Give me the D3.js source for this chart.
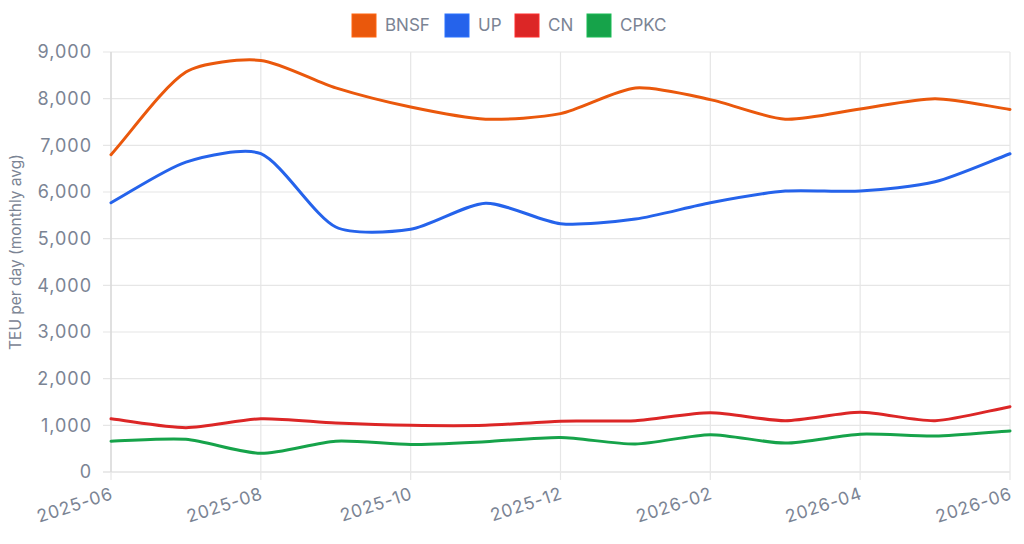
<!DOCTYPE html>
<html>
<head>
<meta charset="utf-8">
<script src="https://cdn.jsdelivr.net/npm/d3@7"></script>
<style>
  html, body { margin: 0; padding: 0; background: #fff; }
  svg { display: block; }
  text { font-family: Inter, "Noto Sans", sans-serif; fill: #7b8494; }
</style>
</head>
<body>
<svg id="chart" width="1024" height="544"></svg>
<script>
const months = ["2025-06","2025-07","2025-08","2025-09","2025-10","2025-11","2025-12",
                "2026-01","2026-02","2026-03","2026-04","2026-05","2026-06"];
const seriesNames = ["BNSF", "UP", "CN", "CPKC"];
const seriesColors = ["#ea580c", "#2563eb", "#dc2626", "#16a34a"];
const bnsf = [6800, 8570, 8820, 8230, 7820, 7560, 7680, 8230, 7980, 7560, 7780, 8000, 7770];
const up   = [5770, 6640, 6820, 5250, 5200, 5760, 5320, 5420, 5770, 6020, 6020, 6220, 6820];
const cn   = [1140,  950, 1140, 1050, 1000, 1000, 1090, 1100, 1270, 1100, 1280, 1100, 1400];
const cpkc = [ 660,  700,  400,  660,  590,  650,  740,  600,  800,  620,  810,  770,  880];
const yTicks = [0, 1000, 2000, 3000, 4000, 5000, 6000, 7000, 8000, 9000];
const xTickLabels = ["2025-06","2025-08","2025-10","2025-12","2026-02","2026-04","2026-06"];
const yTitle = "TEU per day (monthly avg)";

const seriesValues = [bnsf, up, cn, cpkc];

const W = 1024, H = 544;
const m = { left: 111, right: 14, top: 52, bottom: 72 };
const svg = d3.select("#chart");

const x = d3.scalePoint().domain(months).range([m.left, W - m.right]).padding(0);
const y = d3.scaleLinear().domain([0, 9000]).range([H - m.bottom, m.top]);

// horizontal grid
svg.append("g").selectAll("line").data(yTicks).join("line")
  .attr("x1", m.left - 8).attr("x2", W - m.right)
  .attr("y1", d => y(d)).attr("y2", d => y(d))
  .attr("stroke", d => d === 0 ? "#d6d6d6" : "#e6e6e6").attr("stroke-width", 1.2);
// vertical grid
svg.append("g").selectAll("line").data(xTickLabels).join("line")
  .attr("x1", d => x(d)).attr("x2", d => x(d))
  .attr("y1", m.top).attr("y2", H - m.bottom + 8)
  .attr("stroke", "#e6e6e6").attr("stroke-width", 1.2);
// left border
svg.append("line").attr("x1", m.left).attr("x2", m.left)
  .attr("y1", m.top).attr("y2", H - m.bottom).attr("stroke", "#d6d6d6").attr("stroke-width", 1.2);

// y axis labels
const yAxis = d3.axisLeft(y).tickValues(yTicks).tickFormat(d3.format(",")).tickSize(0).tickPadding(19);
const gy = svg.append("g").attr("transform", `translate(${m.left},0)`).call(yAxis);
gy.select(".domain").remove();
gy.selectAll("text").attr("font-size", 18).attr("fill", "#7b8494")
  .style("font-family", "Inter, sans-serif").style("letter-spacing", "1px");

// x axis labels
const xAxis = d3.axisBottom(x).tickValues(xTickLabels).tickSize(0).tickPadding(0);
const gx = svg.append("g").attr("transform", `translate(0,${H - m.bottom})`).call(xAxis);
gx.select(".domain").remove();
gx.selectAll("text")
  .attr("font-size", 17.5).attr("fill", "#7b8494")
  .style("font-family", "Inter, sans-serif").style("letter-spacing", "0.8px")
  .attr("text-anchor", "end")
  .attr("dy", null).attr("y", 0)
  .attr("transform", "translate(1,22) rotate(-18)")
  .attr("dominant-baseline", "middle");

// y title
svg.append("text")
  .attr("transform", `translate(17,252) rotate(-90)`)
  .attr("text-anchor", "middle").attr("dominant-baseline", "middle")
  .attr("font-size", 15.5).attr("fill", "#7b8494")
  .text(yTitle);

// Chart.js-like spline with tension
function splinePath(pts, t) {
  const cps = pts.map((cur, i) => {
    const prev = i > 0 ? pts[i - 1] : cur;
    const next = i < pts.length - 1 ? pts[i + 1] : cur;
    const d01 = Math.hypot(cur[0] - prev[0], cur[1] - prev[1]);
    const d12 = Math.hypot(next[0] - cur[0], next[1] - cur[1]);
    let s01 = d01 / (d01 + d12), s12 = d12 / (d01 + d12);
    if (isNaN(s01)) s01 = 0; if (isNaN(s12)) s12 = 0;
    const fa = t * s01, fb = t * s12;
    return {
      prev: [cur[0] - fa * (next[0] - prev[0]), cur[1] - fa * (next[1] - prev[1])],
      next: [cur[0] + fb * (next[0] - prev[0]), cur[1] + fb * (next[1] - prev[1])]
    };
  });
  const p = d3.path();
  p.moveTo(pts[0][0], pts[0][1]);
  for (let i = 1; i < pts.length; i++) {
    p.bezierCurveTo(cps[i - 1].next[0], cps[i - 1].next[1], cps[i].prev[0], cps[i].prev[1], pts[i][0], pts[i][1]);
  }
  return p.toString();
}

seriesValues.forEach((vals, si) => {
  const pts = vals.map((v, i) => [x(months[i]), y(v)]);
  svg.append("path")
    .attr("d", splinePath(pts, 0.25))
    .attr("fill", "none")
    .attr("stroke", seriesColors[si])
    .attr("stroke-width", 3)
    .attr("stroke-linejoin", "round")
    .attr("stroke-linecap", "round");
});

// legend
const legendX = [352, 445, 515, 587];
const lg = svg.append("g");
seriesNames.forEach((name, i) => {
  lg.append("rect").attr("x", legendX[i]).attr("y", 14).attr("width", 24).attr("height", 23)
    .attr("fill", seriesColors[i]).attr("stroke", d3.color(seriesColors[i]).brighter(0.4)).attr("stroke-width", 1);
  lg.append("text").attr("x", legendX[i] + 33).attr("y", 26)
    .attr("dominant-baseline", "middle").attr("font-size", 17).attr("fill", "#7b8494")
    .style("font-family", "Inter, sans-serif")
    .text(name);
});
</script>
</body>
</html>
